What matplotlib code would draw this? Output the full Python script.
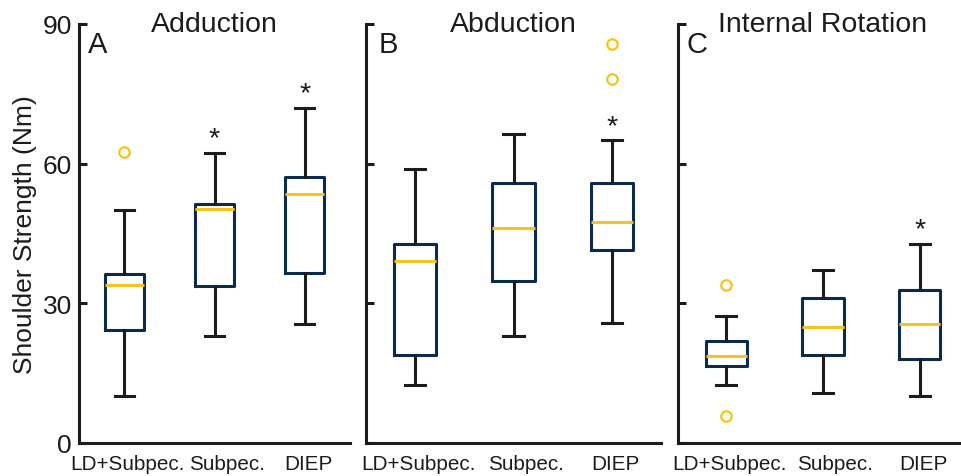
import matplotlib
matplotlib.use("Agg")
import matplotlib.pyplot as plt
from matplotlib.transforms import ScaledTranslation, blended_transform_factory

plt.rcParams['font.family'] = ['Liberation Sans', 'DejaVu Sans']

groups = ["LD+Subpec.", "Subpec.", "DIEP"]
panel_titles = ["Adduction", "Abduction", "Internal Rotation"]
panel_letters = ["A", "B", "C"]
y_ticks = [0, 30, 60, 90]
y_label = "Shoulder Strength (Nm)"

# Box statistics per panel, in group order: lower whisker, Q1, median, Q3, upper whisker
adduction_whislo = [10.0, 22.8, 25.4]
adduction_q1 = [24.2, 33.7, 36.4]
adduction_med = [33.9, 50.3, 53.4]
adduction_q3 = [36.2, 51.3, 57.0]
adduction_whishi = [50.1, 62.3, 72.0]
adduction_fliers = [[62.5], [], []]
adduction_sig = [False, True, True]

abduction_whislo = [12.4, 22.9, 25.6]
abduction_q1 = [18.8, 34.8, 41.5]
abduction_med = [39.0, 46.1, 47.5]
abduction_q3 = [42.7, 55.7, 55.7]
abduction_whishi = [58.9, 66.4, 65.0]
abduction_fliers = [[], [], [78.1, 85.6]]
abduction_sig = [False, False, True]

introt_whislo = [12.4, 10.6, 10.1]
introt_q1 = [16.5, 18.8, 18.0]
introt_med = [18.6, 24.8, 25.5]
introt_q3 = [21.9, 31.0, 32.7]
introt_whishi = [27.1, 37.1, 42.7]
introt_fliers = [[33.9, 5.8], [], []]
introt_sig = [False, False, True]

panels = [
    (adduction_whislo, adduction_q1, adduction_med, adduction_q3, adduction_whishi, adduction_fliers, adduction_sig),
    (abduction_whislo, abduction_q1, abduction_med, abduction_q3, abduction_whishi, abduction_fliers, abduction_sig),
    (introt_whislo, introt_q1, introt_med, introt_q3, introt_whishi, introt_fliers, introt_sig),
]

NAVY = "#0b2a4c"
GOLD = "#f7c31c"
INK = "#1c1c1c"
LW = 2.2

W, H = 961, 477
DPI = 100
fig = plt.figure(figsize=(W / DPI, H / DPI), dpi=DPI)

# axes rectangles in pixels: left, right
rects = [(79, 350), (366, 661), (678, 968)]
y_bottom_px, y_top_px = 443.5, 25.0

letter_dx = [0.033, 0.042, 0.031]
# horizontal nudges (px) for the category labels so they don't crowd each other
label_shift_px = [3, 12, 4]
label_drop_px = 11

for i, ((lo, q1, med, q3, hi, fl, sig), (l, r)) in enumerate(zip(panels, rects)):
    ax = fig.add_axes([l / W, 1 - y_bottom_px / H, (r - l) / W, (y_bottom_px - y_top_px) / H])
    stats = []
    for j in range(len(groups)):
        stats.append(dict(whislo=lo[j], q1=q1[j], med=med[j], q3=q3[j],
                          whishi=hi[j], fliers=fl[j], label=groups[j]))
    ax.bxp(stats, positions=[1, 2, 3], widths=0.43, capwidths=0.21,
           showfliers=True,
           boxprops=dict(color=NAVY, linewidth=LW),
           medianprops=dict(color=GOLD, linewidth=LW),
           whiskerprops=dict(color=INK, linewidth=LW),
           capprops=dict(color=INK, linewidth=LW),
           flierprops=dict(marker="o", markerfacecolor="none",
                           markeredgecolor=GOLD, markeredgewidth=1.6,
                           markersize=7.5),
           zorder=3)
    for j, s in enumerate(sig):
        if s:
            ax.text(j + 1, hi[j] + 1.6, "*", ha="center", va="baseline",
                    fontsize=20.5, color=INK)

    ax.set_xlim(0.5, 3.5)
    ax.set_ylim(0, 90)
    ax.set_yticks(y_ticks)
    ax.set_xticks([])

    # category labels under each box
    base = blended_transform_factory(ax.transData, ax.transAxes)
    for j, (name, dx) in enumerate(zip(groups, label_shift_px)):
        tr = base + ScaledTranslation(dx / DPI, -label_drop_px / DPI, fig.dpi_scale_trans)
        ax.text(j + 1, 0, name, transform=tr, ha="center", va="top",
                fontsize=14.9, color=INK, clip_on=False)

    ax.tick_params(axis="y", direction="in", length=6, width=LW,
                   labelsize=19, pad=5, colors=INK)
    if i == 0:
        ax.set_ylabel(y_label, fontsize=19, color=INK, labelpad=4)
    else:
        ax.set_yticklabels([])
    for side in ("top", "right"):
        ax.spines[side].set_visible(False)
    for side in ("left", "bottom"):
        ax.spines[side].set_linewidth(LW)
        ax.spines[side].set_color(INK)
        ax.spines[side].set_capstyle("projecting")
    ax.text(0.5, 0.983, panel_titles[i], transform=ax.transAxes,
            ha="center", va="baseline", fontsize=20.5, color=INK)
    ax.text(letter_dx[i], 0.933, panel_letters[i], transform=ax.transAxes,
            ha="left", va="baseline", fontsize=21, color=INK)

fig.savefig("out.png", dpi=DPI)
